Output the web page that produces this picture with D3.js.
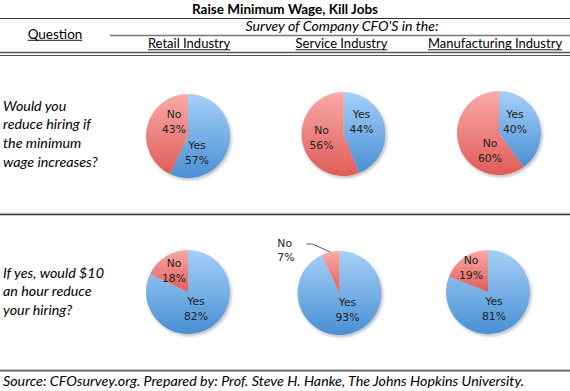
<!DOCTYPE html>
<html>
<head>
<meta charset="utf-8">
<script src="https://cdn.jsdelivr.net/npm/d3@7"></script>
<style>
  body { margin: 0; background: #fff; }
  svg { display: block; }
  text { font-family: Lato, "Open Sans", sans-serif; fill: #000; }
  .lbl { font-family: "DejaVu Sans", Verdana, sans-serif; font-size: 10.8px; fill: #222; }
</style>
</head>
<body>
<svg id="chart" width="570" height="391"></svg>
<script>
// chart data
const title = "Raise Minimum Wage, Kill Jobs";
const surveyLabel = "Survey of Company CFO'S in the:";
const industries = ["Retail Industry", "Service Industry", "Manufacturing Industry"];
const questions = [
  ["Would you", "reduce hiring if", "the minimum", "wage increases?"],
  ["If yes, would $10", "an hour reduce", "your hiring?"]
];
const answers = ["Yes", "No"];
const yesShares = [[57, 44, 40], [82, 93, 81]];
const noShares = [[43, 56, 60], [18, 7, 19]];
const source = "Source: CFOsurvey.org. Prepared by: Prof. Steve H. Hanke, The Johns Hopkins University.";

// layout tweaks (pie nudges and label offsets relative to pie centre)
const nudge = [[[-1, 2], [2, 0], [5, -1]], [[-1, 0], [-2, 1], [-6, 0]]];
const labelOffsets = [
  [{Yes: [9, 16], No: [-14, -15]}, {Yes: [18, -13], No: [-22, 3]}, {Yes: [16, -12], No: [-9, 17]}],
  [{Yes: [8, 16], No: [-14, -22]}, {Yes: [8, 16], No: null}, {Yes: [6, 16], No: [-17, -25]}]
];

const svg = d3.select("#chart");
const W = 570, R = 42;

const x = d3.scalePoint().domain(industries).range([189, 494]);
const y = d3.scalePoint().domain([0, 1]).range([134, 292]);

const defs = svg.append("defs");
const grads = {Yes: ["#a6d0f8", "#4890d4"], No: ["#f9aaa8", "#e05c58"]};
Object.entries(grads).forEach(([k, c]) => {
  const g = defs.append("linearGradient").attr("id", "g" + k)
    .attr("x1", 0).attr("y1", 0).attr("x2", 0).attr("y2", 1);
  g.append("stop").attr("offset", "0%").attr("stop-color", c[0]);
  g.append("stop").attr("offset", "100%").attr("stop-color", c[1]);
});
const f = defs.append("filter").attr("id", "shadow")
  .attr("x", "-20%").attr("y", "-20%").attr("width", "150%").attr("height", "150%");
f.append("feDropShadow").attr("dx", 1.5).attr("dy", 2).attr("stdDeviation", 1.5)
  .attr("flood-color", "#000").attr("flood-opacity", 0.25);

// header
svg.append("text").attr("x", 285).attr("y", 13.5).attr("text-anchor", "middle")
  .attr("textLength", 186).attr("lengthAdjust", "spacingAndGlyphs")
  .style("font-size", "14px").style("font-weight", "bold").text(title);
svg.append("line").attr("x1", 0).attr("x2", W).attr("y1", 18.5).attr("y2", 18.5)
  .attr("stroke", "#333").attr("stroke-width", 1);
svg.append("text").attr("x", 342).attr("y", 31).attr("text-anchor", "middle")
  .attr("textLength", 193).attr("lengthAdjust", "spacingAndGlyphs")
  .style("font-size", "13.5px").style("font-style", "italic").text(surveyLabel);
svg.append("line").attr("x1", 110).attr("x2", W).attr("y1", 35.5).attr("y2", 35.5)
  .attr("stroke", "#777").attr("stroke-width", 1.5);

function underlined(tx, ty, str, size) {
  const t = svg.append("text").attr("x", tx).attr("y", ty).attr("text-anchor", "middle")
    .style("font-size", size + "px").text(str);
  const w = t.node().getComputedTextLength();
  svg.append("line").attr("x1", tx - w / 2).attr("x2", tx + w / 2)
    .attr("y1", ty + 1.8).attr("y2", ty + 1.8).attr("stroke", "#000").attr("stroke-width", 0.9);
}
underlined(55, 38.5, "Question", 13.5);
industries.forEach(d => underlined(x(d) + (d === industries[2] ? 1 : 0), 48, d, 13));

svg.append("line").attr("x1", 0).attr("x2", W).attr("y1", 52.5).attr("y2", 52.5)
  .attr("stroke", "#555").attr("stroke-width", 1.5);
svg.append("line").attr("x1", 0).attr("x2", W).attr("y1", 55.5).attr("y2", 55.5)
  .attr("stroke", "#555").attr("stroke-width", 1.2);

// row separator + footer
svg.append("line").attr("x1", 0).attr("x2", W).attr("y1", 213).attr("y2", 213)
  .attr("stroke", "#ccc").attr("stroke-width", 1);
svg.append("line").attr("x1", 0).attr("x2", W).attr("y1", 214.5).attr("y2", 214.5)
  .attr("stroke", "#333").attr("stroke-width", 1.5);
svg.append("line").attr("x1", 0).attr("x2", W).attr("y1", 369.5).attr("y2", 369.5)
  .attr("stroke", "#bbb").attr("stroke-width", 1);
svg.append("line").attr("x1", 0).attr("x2", W).attr("y1", 370.8).attr("y2", 370.8)
  .attr("stroke", "#444").attr("stroke-width", 1.3);
svg.append("text").attr("x", 3).attr("y", 385.5)
  .attr("textLength", 521).attr("lengthAdjust", "spacingAndGlyphs")
  .style("font-size", "14.2px").style("font-style", "italic").text(source);

// question text
const qTop = [106, 273];
questions.forEach((lines, r) => {
  const t = svg.append("text").attr("x", 3).attr("y", qTop[r] + 4.5)
    .style("font-size", "14.3px").style("font-style", "italic");
  lines.forEach((ln, i) => t.append("tspan").attr("x", 3).attr("dy", i ? 18.7 : 0).text(ln));
});

// pies
const pie = d3.pie().sort(null).value(d => d.v);
const arc = d3.arc().innerRadius(0).outerRadius(R);

[0, 1].forEach(r => {
  industries.forEach((ind, c) => {
    const cx = x(ind) + nudge[r][c][0], cy = y(r) + nudge[r][c][1];
    const vals = answers.map(a => ({a, v: a === "Yes" ? yesShares[r][c] : noShares[r][c]}));
    const g = svg.append("g").attr("transform", `translate(${cx},${cy})`);
    g.append("g").attr("filter", "url(#shadow)").selectAll("path")
      .data(pie(vals)).join("path")
      .attr("d", arc).attr("fill", d => `url(#g${d.data.a})`);
    pie(vals).forEach(d => {
      const off = labelOffsets[r][c][d.data.a];
      if (off) {
        const t = g.append("text").attr("class", "lbl").attr("text-anchor", "middle")
          .attr("x", off[0]).attr("y", off[1] - 3);
        t.append("tspan").attr("x", off[0]).attr("dy", 0).text(d.data.a);
        t.append("tspan").attr("x", off[0]).attr("dy", 14.5).text(d.data.v + "%");
      } else {
        // outside label with leader line
        const mid = (d.startAngle + d.endAngle) / 2;
        const ex = Math.sin(mid) * R, ey = -Math.cos(mid) * R;
        const lx = ex - 18, ly = ey - 8;
        g.append("polyline")
          .attr("points", [[lx - 6, ly], [lx, ly], [ex, ey]].map(p => p.join(",")).join(" "))
          .attr("fill", "none").attr("stroke", "#333").attr("stroke-width", 0.8);
        const t = g.append("text").attr("class", "lbl").attr("x", lx - 35).attr("y", ly + 3);
        t.append("tspan").attr("x", lx - 35).text(d.data.a);
        t.append("tspan").attr("x", lx - 35).attr("dy", 14).text(d.data.v + "%");
      }
    });
  });
});
</script>
</body>
</html>
